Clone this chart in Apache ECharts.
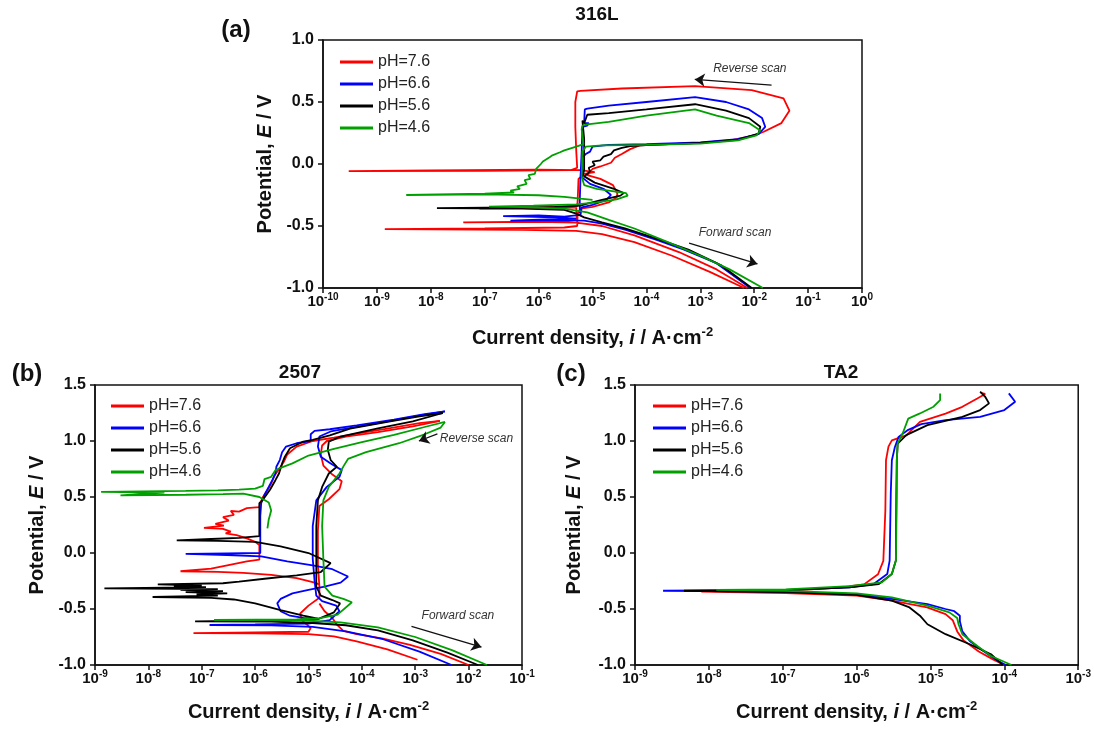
<!DOCTYPE html>
<html>
<head>
<meta charset="utf-8">
<script src="https://cdn.jsdelivr.net/npm/echarts@6/dist/echarts.min.js"></script>
<style>
html, body { margin: 0; padding: 0; background: #fff; }
#main { width: 1094px; height: 729px; }
</style>
</head>
<body>
<div id="main"></div>
<script>
var names = ['pH=7.6', 'pH=6.6', 'pH=5.6', 'pH=4.6'];
var colors = ['#ff0000', '#0000ff', '#000000', '#00a000'];
var yTicksA = [-1, 1];
var yTicksBC = [-1, 1.5];

// (a) 316L  [current density A/cm2, potential V]
var a76 = [[6.5e-3,-1.00],[1.5e-3,-0.87],[3.0e-4,-0.74],[6.0e-5,-0.63],[1.5e-5,-0.565],[5.0e-6,-0.54],[5.0e-7,-0.532],[1.4e-9,-0.526],[1.0e-7,-0.52],[3.0e-6,-0.512],[5.2e-6,-0.50],[5.3e-6,-0.40],[6.0e-6,-0.36],[1.0e-5,-0.345],[2.0e-5,-0.31],[2.8e-5,-0.27],[2.9e-5,-0.24],[2.4e-5,-0.17],[1.4e-5,-0.12],[8.0e-6,-0.09],[1.0e-5,-0.04],[1.4e-5,-0.02],[2.2e-5,0.01],[2.6e-5,0.05],[3.5e-5,0.08],[5.0e-5,0.12],[7.5e-5,0.15],[2.0e-4,0.158],[1.0e-3,0.17],[4.0e-3,0.195],[1.0e-2,0.23],[1.5e-2,0.26],[3.2e-2,0.33],[4.5e-2,0.43],[3.5e-2,0.53],[9.0e-3,0.595],[8.0e-4,0.628],[3.5e-5,0.609],[6.0e-6,0.59],[5.2e-6,0.585],[4.8e-6,0.50],[4.8e-6,0.30],[5.0e-6,0.10],[5.2e-6,-0.03],[4.0e-6,-0.05],[1.0e-7,-0.055],[3.0e-10,-0.058],[1.0e-8,-0.052],[1.0e-6,-0.046],[6.0e-6,-0.05],[1.1e-5,-0.065],[7.0e-6,-0.08],[5.5e-6,-0.12],[5.3e-6,-0.30],[5.2e-6,-0.34],[1.0e-6,-0.352],[8.0e-8,-0.36],[5.0e-7,-0.356],[5.0e-6,-0.35],[5.1e-6,-0.45],[3.0e-6,-0.462],[4.0e-8,-0.47],[1.0e-6,-0.466],[5.0e-6,-0.472],[1.5e-5,-0.50],[6.0e-5,-0.575],[4.0e-4,-0.71],[2.0e-3,-0.85],[7.5e-3,-1.00]];
var a66 = [[8.5e-3,-1.00],[2.0e-3,-0.80],[5.0e-4,-0.69],[1.5e-4,-0.61],[4.0e-5,-0.53],[1.5e-5,-0.48],[7.0e-6,-0.457],[2.0e-6,-0.452],[3.0e-7,-0.457],[1.0e-6,-0.448],[5.0e-6,-0.44],[2.0e-6,-0.43],[2.2e-7,-0.42],[1.0e-6,-0.415],[3.0e-6,-0.425],[6.0e-6,-0.41],[6.3e-6,-0.35],[1.0e-5,-0.33],[1.8e-5,-0.29],[2.2e-5,-0.25],[1.6e-5,-0.20],[9.0e-6,-0.16],[6.5e-6,-0.11],[6.3e-6,0.05],[7.5e-6,0.08],[9.0e-6,0.10],[1.0e-5,0.14],[2.0e-5,0.155],[1.0e-4,0.16],[1.0e-3,0.175],[5.0e-3,0.20],[1.2e-2,0.24],[1.6e-2,0.30],[1.4e-2,0.37],[8.0e-3,0.44],[3.0e-3,0.50],[8.0e-4,0.54],[1.0e-4,0.50],[2.0e-5,0.47],[8.0e-6,0.447],[7.2e-6,0.44],[7.0e-6,0.33],[8.5e-6,0.33],[8.0e-6,0.31],[6.5e-6,0.30],[6.3e-6,0.10],[6.0e-6,-0.10],[5.8e-6,-0.30],[5.8e-6,-0.40]];
var a56 = [[9.0e-3,-1.00],[2.5e-3,-0.82],[6.0e-4,-0.69],[1.5e-4,-0.60],[4.0e-5,-0.52],[1.5e-5,-0.47],[7.0e-6,-0.43],[5.0e-6,-0.40],[3.0e-6,-0.37],[5.0e-7,-0.36],[1.3e-8,-0.356],[3.0e-7,-0.35],[2.0e-6,-0.345],[6.0e-6,-0.335],[8.0e-6,-0.32],[1.5e-5,-0.29],[3.3e-5,-0.255],[3.8e-5,-0.235],[2.5e-5,-0.20],[1.1e-5,-0.15],[7.0e-6,-0.10],[8.0e-6,-0.08],[9.0e-6,-0.06],[8.5e-6,-0.03],[1.1e-5,-0.01],[1.0e-5,0.02],[1.4e-5,0.03],[1.6e-5,0.06],[2.2e-5,0.08],[2.5e-5,0.11],[3.5e-5,0.13],[5.0e-5,0.145],[1.0e-4,0.152],[1.0e-3,0.17],[5.0e-3,0.195],[1.2e-2,0.245],[1.3e-2,0.30],[8.0e-3,0.37],[3.0e-3,0.43],[8.0e-4,0.482],[1.0e-4,0.44],[2.0e-5,0.41],[8.0e-6,0.397],[7.5e-6,0.39],[7.0e-6,0.33],[6.5e-6,0.35],[7.0e-6,0.20],[7.0e-6,-0.05],[6.5e-6,-0.10]];
var a46 = [[1.45e-2,-1.00],[3.5e-3,-0.85],[1.0e-3,-0.74],[2.5e-4,-0.63],[6.0e-5,-0.52],[2.0e-5,-0.45],[8.0e-6,-0.39],[3.0e-6,-0.36],[5.0e-7,-0.347],[1.2e-7,-0.343],[8.0e-7,-0.336],[5.0e-6,-0.326],[1.2e-5,-0.31],[2.8e-5,-0.285],[4.5e-5,-0.255],[4.2e-5,-0.235],[2.5e-5,-0.22],[1.2e-5,-0.20],[7.0e-6,-0.17],[6.3e-6,-0.10],[6.5e-6,0.10],[7.5e-6,0.14],[1.5e-5,0.15],[1.0e-4,0.155],[1.0e-3,0.165],[5.0e-3,0.19],[1.1e-2,0.23],[1.3e-2,0.27],[8.0e-3,0.33],[2.0e-3,0.39],[8.0e-4,0.44],[1.0e-4,0.39],[2.0e-5,0.34],[8.0e-6,0.32],[6.5e-6,0.31],[6.3e-6,0.28],[6.8e-6,0.16],[5.0e-6,0.14],[3.0e-6,0.11],[2.5e-6,0.095],[1.8e-6,0.07],[1.6e-6,0.055],[1.2e-6,0.02],[1.1e-6,0.0],[9.0e-7,-0.04],[8.5e-7,-0.08],[6.5e-7,-0.09],[7.0e-7,-0.12],[5.5e-7,-0.13],[6.0e-7,-0.16],[4.0e-7,-0.18],[4.5e-7,-0.20],[3.0e-7,-0.215],[3.5e-7,-0.23],[1.0e-7,-0.24],[3.5e-9,-0.25],[1.0e-7,-0.245],[1.0e-6,-0.252],[3.0e-6,-0.265],[6.0e-6,-0.28],[1.0e-5,-0.29]];

// (b) 2507
var b76f = [[1.1e-3,-0.953],[3.0e-4,-0.86],[8.0e-5,-0.79],[3.0e-5,-0.745],[1.0e-5,-0.725],[1.0e-6,-0.717],[7.0e-8,-0.715],[1.0e-6,-0.708],[1.0e-5,-0.703],[1.1e-5,-0.67],[7.5e-6,-0.60],[7.0e-6,-0.54],[1.0e-5,-0.47],[1.6e-5,-0.40],[1.6e-5,-0.30],[1.5e-5,-0.10],[1.5e-5,0.20],[1.6e-5,0.42],[2.4e-5,0.48],[3.8e-5,0.57],[4.2e-5,0.64],[2.8e-5,0.70],[1.9e-5,0.78],[1.7e-5,0.88],[1.8e-5,0.96],[2.2e-5,1.0],[5.0e-5,1.04],[2.0e-4,1.08],[9.0e-4,1.13],[2.9e-3,1.18]];
var b76r = [[2.9e-3,1.18],[1.2e-3,1.16],[3.0e-4,1.11],[8.0e-5,1.065],[3.0e-5,1.03],[1.2e-5,1.0],[6.0e-6,0.95],[4.0e-6,0.88],[3.5e-6,0.82],[3.0e-6,0.77],[2.3e-6,0.69],[2.0e-6,0.62],[1.7e-6,0.56],[1.4e-6,0.50],[1.25e-6,0.445],[1.2e-6,0.41],[7.0e-7,0.40],[5.0e-7,0.37],[3.5e-7,0.375],[4.0e-7,0.34],[2.5e-7,0.32],[3.2e-7,0.29],[1.8e-7,0.26],[2.6e-7,0.245],[1.1e-7,0.225],[2.5e-7,0.215],[3.5e-7,0.19],[2.8e-7,0.175],[4.5e-7,0.16],[7.0e-7,0.13],[1.0e-6,0.10],[1.2e-6,0.07],[1.2e-6,-0.06],[7.0e-7,-0.075],[3.0e-7,-0.11],[1.5e-7,-0.14],[4.0e-8,-0.163],[2.0e-7,-0.168],[6.0e-7,-0.178],[2.0e-6,-0.195],[6.0e-6,-0.225],[1.2e-5,-0.26],[1.6e-5,-0.28]];
var b76c = [[1.0e-2,-1.0],[3.0e-3,-0.90],[8.0e-4,-0.82],[2.5e-4,-0.765],[8.0e-5,-0.725],[4.5e-5,-0.695],[3.4e-5,-0.64],[2.8e-5,-0.58],[2.0e-5,-0.52],[1.6e-5,-0.45]];
var b66f = [[4.8e-3,-1.0],[1.2e-3,-0.88],[2.5e-4,-0.77],[5.0e-5,-0.70],[1.2e-5,-0.66],[2.0e-6,-0.647],[1.4e-7,-0.643],[1.0e-6,-0.638],[1.0e-5,-0.63],[2.5e-5,-0.60],[3.8e-5,-0.52],[3.3e-5,-0.47],[1.8e-5,-0.43],[1.4e-5,-0.38],[1.3e-5,-0.25],[1.2e-5,-0.05],[1.2e-5,0.24],[1.4e-5,0.47],[2.2e-5,0.59],[3.8e-5,0.68],[4.2e-5,0.74],[2.6e-5,0.80],[1.7e-5,0.86],[1.5e-5,0.95],[1.6e-5,1.04],[2.6e-5,1.085],[2.0e-4,1.16],[1.0e-3,1.22],[3.6e-3,1.265]];
var b66r = [[3.6e-3,1.265],[1.5e-3,1.24],[4.0e-4,1.19],[8.0e-5,1.14],[2.5e-5,1.105],[1.3e-5,1.09],[1.1e-5,1.06],[1.1e-5,1.0],[6.0e-6,0.98],[3.8e-6,0.95],[3.2e-6,0.90],[2.9e-6,0.83],[2.5e-6,0.77],[2.4e-6,0.71],[2.1e-6,0.65],[1.8e-6,0.59],[1.5e-6,0.52],[1.3e-6,0.445],[1.25e-6,0.33],[1.25e-6,0.12],[1.25e-6,0.0],[3.0e-7,-0.004],[5.0e-8,-0.008],[3.0e-7,-0.018],[1.3e-6,-0.03],[4.0e-6,-0.075],[1.2e-5,-0.11],[2.8e-5,-0.145],[5.5e-5,-0.21],[4.0e-5,-0.265],[2.0e-5,-0.30],[1.0e-5,-0.33],[5.0e-6,-0.36],[3.0e-6,-0.41],[2.6e-6,-0.45],[3.0e-6,-0.52],[4.5e-6,-0.56],[8.0e-6,-0.58],[1.5e-5,-0.59]];
var b56f = [[1.5e-2,-1.0],[4.0e-3,-0.89],[9.0e-4,-0.78],[2.0e-4,-0.69],[5.0e-5,-0.645],[1.2e-5,-0.625],[2.0e-6,-0.612],[7.5e-8,-0.61],[8.0e-7,-0.605],[5.0e-6,-0.60],[1.5e-5,-0.59],[3.0e-5,-0.53],[3.9e-5,-0.45],[2.8e-5,-0.42],[1.7e-5,-0.38],[1.4e-5,-0.30],[1.4e-5,-0.06],[1.4e-5,0.24],[1.5e-5,0.47],[1.8e-5,0.59],[2.4e-5,0.71],[3.4e-5,0.77],[2.6e-5,0.83],[2.3e-5,0.92],[2.4e-5,0.995],[4.0e-5,1.04],[2.0e-4,1.113],[9.0e-4,1.175],[3.3e-3,1.25]];
var b56r = [[3.3e-3,1.25],[1.2e-3,1.22],[3.0e-4,1.17],[6.0e-5,1.11],[2.5e-5,1.05],[1.2e-5,1.01],[8.0e-6,0.995],[4.5e-6,0.935],[3.6e-6,0.86],[3.2e-6,0.80],[2.8e-6,0.71],[2.4e-6,0.65],[1.9e-6,0.565],[1.4e-6,0.475],[1.2e-6,0.445],[1.2e-6,0.30],[1.2e-6,0.15],[5.0e-7,0.135],[1.5e-7,0.125],[3.4e-8,0.112],[2.0e-7,0.108],[1.0e-6,0.10],[3.0e-6,0.06],[1.0e-5,0.0],[2.6e-5,-0.09],[1.7e-5,-0.17],[6.0e-6,-0.20],[1.5e-6,-0.23],[5.0e-7,-0.255],[2.5e-7,-0.27],[1.5e-8,-0.28],[1.0e-7,-0.29],[3.0e-8,-0.30],[1.2e-7,-0.305],[1.5e-9,-0.316],[2.0e-7,-0.322],[4.0e-8,-0.33],[2.5e-7,-0.34],[5.0e-8,-0.35],[3.0e-7,-0.36],[8.0e-8,-0.37],[2.0e-7,-0.38],[1.2e-8,-0.393],[1.5e-7,-0.40],[4.0e-7,-0.415],[1.0e-6,-0.45],[3.0e-6,-0.51],[8.0e-6,-0.56],[1.5e-5,-0.585]];
var b46f = [[2.2e-2,-1.0],[5.0e-3,-0.87],[1.0e-3,-0.75],[2.0e-4,-0.665],[4.0e-5,-0.62],[1.0e-5,-0.605],[2.0e-6,-0.60],[1.7e-7,-0.598],[1.0e-6,-0.594],[6.0e-6,-0.592],[1.5e-5,-0.585],[3.5e-5,-0.55],[6.5e-5,-0.44],[4.5e-5,-0.41],[2.8e-5,-0.38],[2.0e-5,-0.30],[1.9e-5,-0.06],[1.8e-5,0.24],[1.9e-5,0.47],[2.4e-5,0.59],[3.8e-5,0.71],[4.6e-5,0.78],[5.5e-5,0.84],[1.2e-4,0.90],[5.0e-4,0.98],[1.5e-3,1.06],[3.0e-3,1.12],[3.6e-3,1.17]];
var b46r = [[3.6e-3,1.17],[1.5e-3,1.125],[4.0e-4,1.055],[1.0e-4,0.99],[3.0e-5,0.93],[1.0e-5,0.87],[5.0e-6,0.80],[3.0e-6,0.76],[2.4e-6,0.74],[2.0e-6,0.68],[1.5e-6,0.66],[1.4e-6,0.60],[1.0e-6,0.575],[5.0e-7,0.565],[2.0e-7,0.56],[5.0e-8,0.555],[1.3e-9,0.545],[2.0e-8,0.54],[3.0e-9,0.515],[5.0e-8,0.52],[2.5e-7,0.525],[6.0e-7,0.53],[1.2e-6,0.50],[1.8e-6,0.45],[2.0e-6,0.38],[1.8e-6,0.30],[1.7e-6,0.22]];

// (c) TA2
var c76 = [[1.0e-4,-1.0],[7.0e-5,-0.95],[4.5e-5,-0.88],[2.8e-5,-0.78],[2.3e-5,-0.70],[2.0e-5,-0.60],[1.6e-5,-0.546],[9.0e-6,-0.486],[3.0e-6,-0.426],[1.0e-6,-0.38],[1.1e-7,-0.358],[7.9e-9,-0.345],[1.1e-7,-0.337],[5.9e-7,-0.31],[1.26e-6,-0.28],[1.95e-6,-0.19],[2.3e-6,-0.07],[2.45e-6,0.38],[2.5e-6,0.83],[2.7e-6,0.95],[3.0e-6,1.005],[4.7e-6,1.05],[7.2e-6,1.17],[1.6e-5,1.245],[2.7e-5,1.305],[4.3e-5,1.38],[5.5e-5,1.42],[4.8e-5,1.43]];
var c66 = [[1.05e-4,-1.0],[8.0e-5,-0.96],[5.2e-5,-0.875],[3.4e-5,-0.785],[2.7e-5,-0.70],[2.5e-5,-0.61],[2.5e-5,-0.56],[2.1e-5,-0.52],[1.6e-5,-0.50],[9.1e-6,-0.456],[3.0e-6,-0.41],[1.0e-6,-0.367],[1.1e-7,-0.345],[1.0e-8,-0.34],[2.4e-9,-0.337],[1.0e-8,-0.335],[1.1e-7,-0.331],[8.0e-7,-0.307],[1.7e-6,-0.277],[2.6e-6,-0.188],[2.8e-6,-0.068],[2.9e-6,0.53],[3.0e-6,0.828],[3.3e-6,0.947],[3.7e-6,1.037],[5.0e-6,1.10],[7.5e-6,1.15],[1.6e-5,1.186],[4.7e-5,1.216],[1.0e-4,1.276],[1.4e-4,1.35],[1.15e-4,1.425]];
var c56 = [[9.5e-5,-1.0],[6.6e-5,-0.904],[3.4e-5,-0.815],[1.6e-5,-0.725],[9.1e-6,-0.636],[7.2e-6,-0.56],[5.2e-6,-0.486],[3.0e-6,-0.426],[1.0e-6,-0.373],[1.1e-7,-0.35],[1.0e-8,-0.34],[4.6e-9,-0.337],[1.1e-7,-0.33],[8.0e-7,-0.307],[2.0e-6,-0.277],[3.0e-6,-0.188],[3.4e-6,-0.068],[3.45e-6,0.53],[3.5e-6,0.828],[3.6e-6,0.977],[4.7e-6,1.052],[9.1e-6,1.142],[2.7e-5,1.216],[4.7e-5,1.276],[6.2e-5,1.336],[5.5e-5,1.395],[4.7e-5,1.44]];
var c46 = [[1.25e-4,-1.0],[6.6e-5,-0.92],[4.3e-5,-0.83],[2.7e-5,-0.725],[2.4e-5,-0.636],[2.3e-5,-0.58],[1.8e-5,-0.53],[9.1e-6,-0.47],[3.0e-6,-0.396],[1.0e-6,-0.36],[1.1e-7,-0.338],[1.26e-8,-0.33],[1.1e-7,-0.325],[8.0e-7,-0.295],[2.2e-6,-0.262],[3.0e-6,-0.188],[3.4e-6,-0.068],[3.5e-6,0.53],[3.5e-6,0.828],[3.6e-6,0.977],[4.2e-6,1.067],[5.0e-6,1.20],[7.2e-6,1.246],[1.1e-5,1.306],[1.35e-5,1.366],[1.35e-5,1.425]];

// annotation anchors in data space
var aRevArrow = [[2.1e-2, 0.636], [7.9e-4, 0.682]];
var aRevText = [8.3e-3, 0.771];
var aFwdArrow = [[6.2e-4, -0.639], [1.15e-2, -0.806]];
var aFwdText = [4.4e-3, -0.55];
var bRevArrow = [[2.6e-3, 1.063], [1.17e-3, 1.0]];
var bRevText = [1.4e-2, 1.024];
var bFwdArrow = [[8.5e-4, -0.655], [1.74e-2, -0.84]];
var bFwdText = [6.3e-3, -0.56];

var FONT = "'Liberation Sans', Arial, Helvetica, sans-serif";

var panels = [
  [[a76], [a66], [a56], [a46]],
  [[b76f, b76r, b76c], [b66f, b66r], [b56f, b56r], [b46f, b46r]],
  [[c76], [c66], [c56], [c46]]
];
var xRange = [[1e-10, 1], [1e-9, 1e-1], [1e-9, 1e-3]];
var yRange = [yTicksA, yTicksBC, yTicksBC];
var grids = [
  {left: 323, top: 40, width: 539, height: 248},
  {left: 95, top: 385, width: 427, height: 280},
  {left: 635, top: 385, width: 445, height: 280}
];
var legendPos = [[340, 54], [111, 398], [653, 398]];
var notes = [
  {arrows: [aRevArrow, aFwdArrow], texts: [[aRevText, 'Reverse scan'], [aFwdText, 'Forward scan']]},
  {arrows: [bRevArrow, bFwdArrow], texts: [[bRevText, 'Reverse scan'], [bFwdText, 'Forward scan']]},
  null
];

function lineSeries(p, k, data) {
  return {
    type: 'line', name: names[k], xAxisIndex: p, yAxisIndex: p, data: data,
    symbol: 'none', showSymbol: false, silent: true, animation: false,
    lineStyle: {color: colors[k], width: 1.8},
    itemStyle: {color: colors[k]},
    emphasis: {disabled: true}
  };
}

var series = [];
panels.forEach(function (groups, p) {
  groups.forEach(function (segs, k) {
    segs.forEach(function (d) { series.push(lineSeries(p, k, d)); });
  });
  var n = notes[p];
  if (n) {
    var s = lineSeries(p, 2, []);
    s.name = 'notes' + p;
    s.markLine = {
      silent: true, animation: false, symbol: ['none', 'arrow'], symbolSize: 10,
      itemStyle: {color: '#111'},
      lineStyle: {color: '#111', width: 1.3, type: 'solid'}, label: {show: false},
      emphasis: {disabled: true},
      data: n.arrows.map(function (a) { return [{coord: a[0]}, {coord: a[1]}]; })
    };
    s.markPoint = {
      silent: true, animation: false, symbol: 'rect', symbolSize: 1,
      itemStyle: {color: 'rgba(0,0,0,0)'},
      label: {show: true, position: 'inside', fontStyle: 'italic', fontSize: 12, color: '#333', fontFamily: FONT},
      data: n.texts.map(function (t) { return {coord: t[0], value: t[1], label: {formatter: t[1]}}; })
    };
    series.push(s);
  }
});

var supRich = {
  b: {fontSize: 15, fontWeight: 'bold', fontFamily: FONT, color: '#111', lineHeight: 20},
  s: {fontSize: 10, fontWeight: 'bold', fontFamily: FONT, color: '#111', lineHeight: 11, verticalAlign: 'top'}
};
var nameRich = {
  t: {fontSize: 20, fontWeight: 'bold', fontFamily: FONT, color: '#111', lineHeight: 24},
  i: {fontSize: 20, fontWeight: 'bold', fontStyle: 'italic', fontFamily: FONT, color: '#111', lineHeight: 24},
  s: {fontSize: 13, fontWeight: 'bold', fontFamily: FONT, color: '#111', lineHeight: 13, verticalAlign: 'top'}
};

var xAxes = xRange.map(function (r, p) {
  return {
    type: 'log', logBase: 10, gridIndex: p, min: r[0], max: r[1], interval: 1, splitNumber: 10,
    name: '{t|Current density, }{i|i}{t| / A·cm}{s|-2}',
    nameLocation: 'middle', nameGap: p === 0 ? 38 : 35,
    nameTextStyle: {rich: nameRich},
    axisLine: {show: true, onZero: false, lineStyle: {color: '#111', width: 1.5}},
    axisTick: {show: true, inside: false, length: 5, lineStyle: {color: '#111', width: 1.5}},
    minorTick: {show: false},
    splitLine: {show: false},
    axisLabel: {
      margin: 4,
      formatter: function (v) {
        var e = Math.round(Math.log(v) / Math.LN10);
        return '{b|10}{s|' + e + '}';
      },
      rich: supRich
    }
  };
});

var yAxes = yRange.map(function (r, p) {
  return {
    type: 'value', gridIndex: p, min: r[0], max: r[1], interval: 0.5,
    name: '{t|Potential, }{i|E}{t| / V}',
    nameLocation: 'middle', nameRotate: 90, nameGap: p === 2 ? 49 : 46,
    nameTextStyle: {rich: nameRich},
    axisLine: {show: true, onZero: false, lineStyle: {color: '#111', width: 1.5}},
    axisTick: {show: true, inside: false, length: 5, lineStyle: {color: '#111', width: 1.5}},
    splitLine: {show: false},
    axisLabel: {
      margin: 9, fontSize: 16, fontWeight: 'bold', fontFamily: FONT, color: '#111',
      formatter: function (v) { return v.toFixed(1); }
    }
  };
});

var legends = legendPos.map(function (pos) {
  return {
    data: names, left: pos[0], top: pos[1], orient: 'vertical', padding: 0,
    icon: 'rect', itemWidth: 33, itemHeight: 3, itemGap: 6, selectedMode: false,
    textStyle: {fontSize: 16, color: '#222', fontFamily: FONT}
  };
});

function label(text, x, y, size) {
  return {
    type: 'text', x: x, y: y, silent: true,
    style: {text: text, fill: '#111', font: 'bold ' + size + 'px ' + FONT, textAlign: 'center', textVerticalAlign: 'middle'}
  };
}

var chart = echarts.init(document.getElementById('main'));
chart.setOption({
  animation: false,
  backgroundColor: '#fff',
  grid: grids.map(function (g) {
    return {left: g.left, top: g.top, width: g.width, height: g.height, show: true,
      borderColor: '#111', borderWidth: 1.5, backgroundColor: 'rgba(0,0,0,0)', containLabel: false};
  }),
  xAxis: xAxes,
  yAxis: yAxes,
  legend: legends,
  graphic: [
    label('(a)', 236, 30, 24),
    label('316L', 597, 15, 19),
    label('(b)', 27, 374, 24),
    label('2507', 300, 373, 19),
    label('(c)', 571, 374, 24),
    label('TA2', 841, 373, 19)
  ],
  series: series
});
</script>
</body>
</html>
